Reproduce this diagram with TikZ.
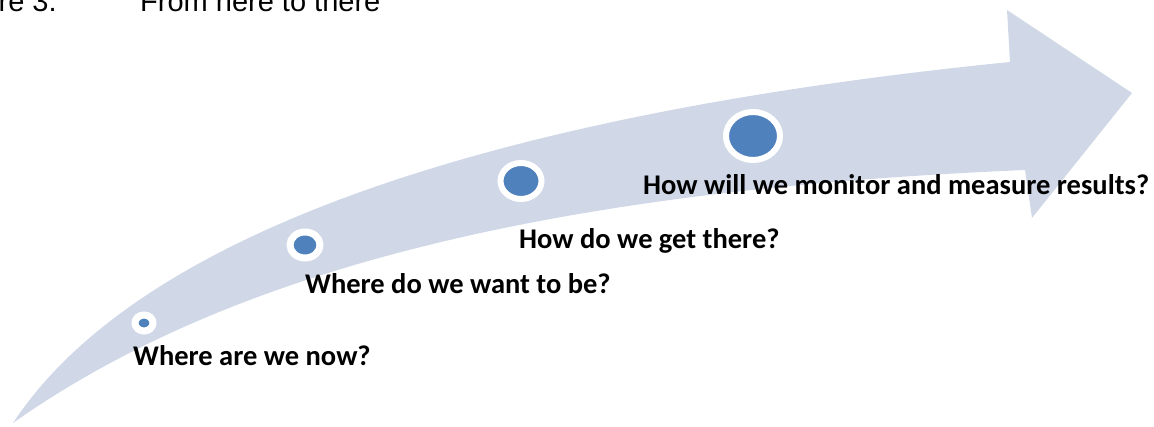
\documentclass[tikz,border=0pt]{standalone}
\usepackage{fontspec}
\setmainfont{Liberation Sans}
\newfontfamily\labelfont{Carlito}
\usetikzlibrary{shapes.geometric}
\definecolor{bandfill}{HTML}{D0D8E8}
\definecolor{dotblue}{HTML}{4F81BD}
\tikzset{
  stage/.style={anchor=base west, inner sep=0pt, font=\labelfont\bfseries\fontsize{28.5}{28.5}\selectfont, text=black},
  milestone/.style={ellipse, fill=dotblue, draw=white, inner sep=0pt, outer sep=0pt},
  caption/.style={anchor=base west, inner sep=0pt, font=\fontsize{29}{29}\selectfont, text=black}
}
\begin{document}
\begin{tikzpicture}[x=1pt, y=-1pt]
  \useasboundingbox (0,0) rectangle (1154,427);
  \clip (0,0) rectangle (1154,427);
  % caption line, cut by the top edge
  \node[caption] (fig) at (-58,12) {Figure 3.};
  \node[caption] (title) at (140,12) {From here to there};
  % curved arrow
  \fill[bandfill] (13,423)
      .. controls (160,200) and (600,103) .. (1010,62)
      -- (1007,10) -- (1132,93) -- (1032,218) -- (1025,170)
      .. controls (550,190) and (230,270) .. (13,423) -- cycle;
  % milestones along the arrow
  \node[milestone, line width=7pt, minimum width=18pt, minimum height=16pt] (m1) at (144,323) {};
  \node[milestone, line width=7pt, minimum width=30pt, minimum height=26pt] (m2) at (305,245) {};
  \node[milestone, line width=6pt, minimum width=41pt, minimum height=36pt] (m3) at (521,181) {};
  \node[milestone, line width=6pt, minimum width=54pt, minimum height=48pt] (m4) at (753,136) {};
  % stage questions
  \node[stage] (q1) at (133,366) {Where are we now?};
  \node[stage] (q2) at (305,294) {Where do we want to be?};
  \node[stage] (q3) at (519,249) {How do we get there?};
  \node[stage] (q4) at (643,195) {How will we monitor and measure results?};
\end{tikzpicture}
\end{document}
